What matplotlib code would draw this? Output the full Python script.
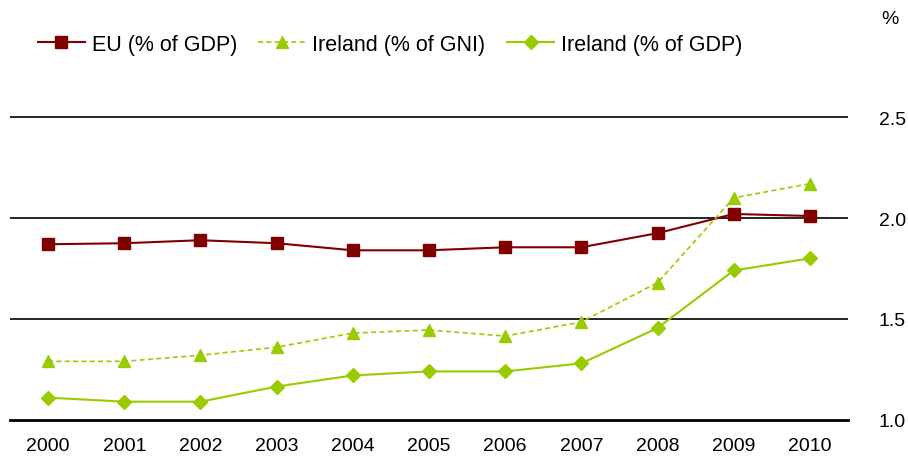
import matplotlib
matplotlib.use("Agg")
import matplotlib.pyplot as plt

plt.rcParams['font.family'] = ['Liberation Sans', 'DejaVu Sans']

years = ["2000", "2001", "2002", "2003", "2004", "2005", "2006", "2007", "2008", "2009", "2010"]
eu_gdp = [1.87, 1.875, 1.89, 1.875, 1.84, 1.84, 1.855, 1.855, 1.925, 2.02, 2.01]
ireland_gni = [1.29, 1.29, 1.32, 1.36, 1.43, 1.445, 1.415, 1.485, 1.68, 2.10, 2.17]
ireland_gdp = [1.11, 1.09, 1.09, 1.165, 1.22, 1.24, 1.24, 1.28, 1.455, 1.74, 1.80]
y_ticks = [1.0, 1.5, 2.0, 2.5]

red = "#800000"
green = "#99CC00"

fig = plt.figure(figsize=(9.08, 4.64), dpi=100)
ax = fig.add_axes([0.011, 0.093, 0.923, 0.87])

x = list(range(len(years)))

# grid lines
for v in y_ticks[1:]:
    ax.axhline(v, color="black", linewidth=1.2, zorder=1)

ax.plot(x, eu_gdp, color=red, linewidth=1.5, marker="s", markersize=9,
        label="EU (% of GDP)", zorder=3)
ax.plot(x, ireland_gni, color=green, linewidth=1.2, linestyle=(0, (3, 2)),
        marker="^", markersize=9, label="Ireland (% of GNI)", zorder=3)
ax.plot(x, ireland_gdp, color=green, linewidth=1.5, marker="D", markersize=7,
        label="Ireland (% of GDP)", zorder=3)

ax.set_xlim(-0.5, 10.5)
ax.set_ylim(1.0, 3.0)
ax.set_xticks(x)
ax.set_xticklabels(years, fontsize=14)
ax.set_yticks(y_ticks)
ax.set_yticklabels(["%.1f" % v for v in y_ticks], fontsize=14)
ax.yaxis.tick_right()
ax.tick_params(axis="both", length=0, pad=12)
ax.tick_params(axis="y", pad=22)

for s in ["top", "left", "right"]:
    ax.spines[s].set_visible(False)
ax.spines["bottom"].set_linewidth(2)

fig.text(0.99, 0.957, "%", fontsize=14, ha="right", va="center")

ax.legend(loc="upper left", bbox_to_anchor=(0.01, 1.005), ncol=3, frameon=False,
          fontsize=15.5, handlelength=2.2, columnspacing=1.0, handletextpad=0.3)

plt.savefig("out.png", dpi=100)
